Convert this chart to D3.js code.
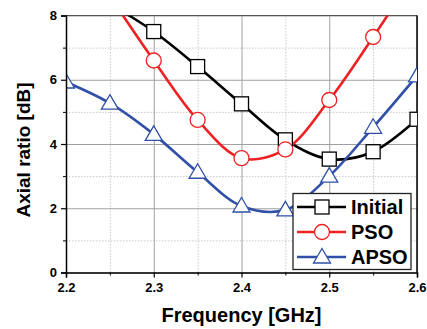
<!DOCTYPE html>
<html>
<head>
<meta charset="utf-8">
<script src="https://cdn.jsdelivr.net/npm/d3@7"></script>
<style>
  html, body { margin: 0; padding: 0; background: #fff; }
  svg text { font-family: Arial, "Liberation Sans", sans-serif; font-weight: bold; }
</style>
</head>
<body>
<div id="chart"></div>
<script>
// Data
const freq = [2.2, 2.25, 2.3, 2.35, 2.4, 2.45, 2.5, 2.55, 2.6];
const initial = [9.5, 8.4, 7.5, 6.41, 5.25, 4.13, 3.53, 3.76, 4.77];
const pso = [10.6, 8.6, 6.6, 4.75, 3.56, 3.83, 5.37, 7.33, 9.4];
const apso = [5.93, 5.27, 4.3, 3.12, 2.07, 1.95, 3.0, 4.52, 6.12];
const xTicks = [2.2, 2.3, 2.4, 2.5, 2.6];
const xMinor = [2.25, 2.35, 2.45, 2.55];
const yTicks = [0, 2, 4, 6, 8];
const yMinor = [1, 3, 5, 7];

const series = [
  { name: 'Initial', values: initial, color: '#000000', marker: 'square' },
  { name: 'PSO', values: pso, color: '#ee2222', marker: 'circle' },
  { name: 'APSO', values: apso, color: '#3050a8', marker: 'triangle' }
];

const W = 427, H = 329;
const margin = { top: 15.5, right: 10, bottom: 56.5, left: 66 };
const iw = W - margin.left - margin.right;
const ih = H - margin.top - margin.bottom;

const svg = d3.select('#chart').append('svg')
  .attr('width', W).attr('height', H);

const g = svg.append('g')
  .attr('transform', `translate(${margin.left},${margin.top})`);

const x = d3.scaleLinear().domain([2.2, 2.6]).range([0, iw]);
const y = d3.scaleLinear().domain([0, 8]).range([ih, 0]);

g.append('defs').append('clipPath').attr('id', 'plot-clip')
  .append('rect').attr('width', iw).attr('height', ih);

// minor grid (dotted)
g.append('g')
  .call(d3.axisBottom(x).tickValues(xMinor).tickSize(-ih).tickFormat(() => ''))
  .attr('transform', `translate(0,${ih})`)
  .call(a => a.select('.domain').remove())
  .call(a => a.selectAll('line').attr('stroke', '#c8c8c8').attr('stroke-dasharray', '1.5,1.5'));
g.append('g')
  .call(d3.axisLeft(y).tickValues(yMinor).tickSize(-iw).tickFormat(() => ''))
  .call(a => a.select('.domain').remove())
  .call(a => a.selectAll('line').attr('stroke', '#c8c8c8').attr('stroke-dasharray', '1.5,1.5'));

// major grid
g.append('g')
  .call(d3.axisBottom(x).tickValues(xTicks).tickSize(-ih).tickFormat(() => ''))
  .attr('transform', `translate(0,${ih})`)
  .call(a => a.select('.domain').remove())
  .call(a => a.selectAll('line').attr('stroke', '#a0a0a0').attr('stroke-width', 1));
g.append('g')
  .call(d3.axisLeft(y).tickValues(yTicks).tickSize(-iw).tickFormat(() => ''))
  .call(a => a.select('.domain').remove())
  .call(a => a.selectAll('line').attr('stroke', '#a0a0a0').attr('stroke-width', 1));

// top and right frame
g.append('line').attr('x1', 0).attr('x2', iw).attr('y1', 0).attr('y2', 0)
  .attr('stroke', '#555').attr('stroke-width', 1.2);
g.append('line').attr('x1', iw).attr('x2', iw).attr('y1', 0).attr('y2', ih)
  .attr('stroke', '#000').attr('stroke-width', 1.5);

// curves
const line = d3.line()
  .x((d, i) => x(freq[i]))
  .y(d => y(d))
  .curve(d3.curveCatmullRom.alpha(0.5));

const plot = g.append('g').attr('clip-path', 'url(#plot-clip)');

series.forEach(s => {
  plot.append('path')
    .datum(s.values)
    .attr('fill', 'none')
    .attr('stroke', s.color)
    .attr('stroke-width', 2.6)
    .attr('d', line);
});

const drawMarker = (sel, type, color, cx, cy) => {
  if (type === 'square') {
    sel.append('rect').attr('x', cx - 7).attr('y', cy - 7).attr('width', 14).attr('height', 14)
      .attr('fill', '#fff').attr('stroke', color).attr('stroke-width', 1.3);
  } else if (type === 'circle') {
    sel.append('circle').attr('cx', cx).attr('cy', cy).attr('r', 7.5)
      .attr('fill', '#fff').attr('stroke', color).attr('stroke-width', 1.3);
  } else {
    sel.append('path')
      .attr('d', `M${cx},${cy - 8.5}L${cx + 8.5},${cy + 6}L${cx - 8.5},${cy + 6}Z`)
      .attr('fill', '#fff').attr('stroke', color).attr('stroke-width', 1.3);
  }
};

series.forEach(s => {
  s.values.forEach((v, i) => {
    if (v > 8.5) return;
    drawMarker(plot, s.marker, s.color, x(freq[i]), y(v));
  });
});

// axes
g.append('g')
  .attr('transform', `translate(0,${ih})`)
  .call(d3.axisBottom(x).tickValues(xTicks).tickSize(5).tickPadding(5).tickFormat(d3.format('.1f')))
  .call(a => a.select('.domain').attr('stroke', '#000').attr('stroke-width', 1.5))
  .call(a => a.selectAll('line').attr('stroke', '#000').attr('stroke-width', 1.2))
  .call(a => a.selectAll('text').attr('fill', '#000').style('font-size', '13px').style('font-weight', 'bold'));
g.append('g')
  .attr('transform', `translate(0,${ih})`)
  .call(d3.axisBottom(x).tickValues(xMinor).tickSize(3).tickFormat(() => ''))
  .call(a => a.select('.domain').remove())
  .call(a => a.selectAll('line').attr('stroke', '#000'));

g.append('g')
  .call(d3.axisLeft(y).tickValues(yTicks).tickSize(5).tickPadding(4))
  .call(a => a.select('.domain').attr('stroke', '#000').attr('stroke-width', 1.5))
  .call(a => a.selectAll('line').attr('stroke', '#000').attr('stroke-width', 1.2))
  .call(a => a.selectAll('text').attr('fill', '#000').style('font-size', '13px').style('font-weight', 'bold'));
g.append('g')
  .call(d3.axisLeft(y).tickValues(yMinor).tickSize(3).tickFormat(() => ''))
  .call(a => a.select('.domain').remove())
  .call(a => a.selectAll('line').attr('stroke', '#000'));

// axis titles
svg.append('text')
  .attr('x', margin.left + iw / 2).attr('y', 322)
  .attr('text-anchor', 'middle')
  .style('font-size', '20px')
  .text('Frequency [GHz]');
svg.append('text')
  .attr('transform', `translate(30,150) rotate(-90)`)
  .attr('text-anchor', 'middle')
  .style('font-size', '19px')
  .text('Axial ratio [dB]');

// legend
const legend = svg.append('g').attr('transform', 'translate(293,193.5)');
legend.append('rect').attr('width', 118).attr('height', 76)
  .attr('fill', '#fff').attr('stroke', '#222').attr('stroke-width', 1.3);
series.forEach((s, i) => {
  const ly = 13.5 + i * 25;
  legend.append('line').attr('x1', 4).attr('x2', 53).attr('y1', ly).attr('y2', ly)
    .attr('stroke', s.color).attr('stroke-width', 2.6);
  drawMarker(legend, s.marker, s.color, 29, ly);
  legend.append('text').attr('x', 58).attr('y', ly + 7)
    .style('font-size', '20px').attr('fill', '#000').text(s.name);
});
</script>
</body>
</html>
